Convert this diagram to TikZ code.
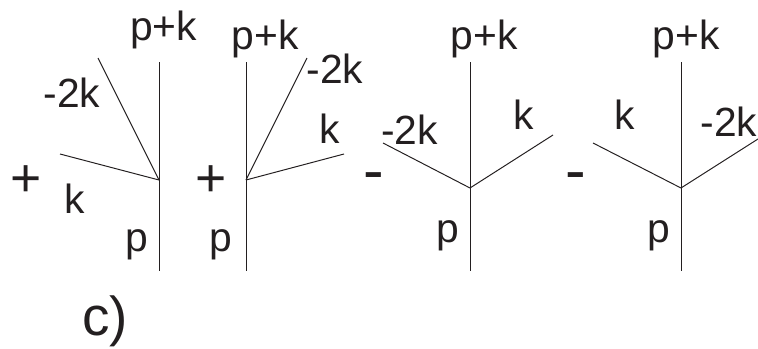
\documentclass[tikz,border=0pt]{standalone}
\usepackage{fontspec}
\setmainfont{Liberation Sans}
\definecolor{inkdark}{HTML}{231F20}

\begin{document}
\begin{tikzpicture}[
		x=0.025cm, y=-0.025cm,
		every node/.style={inner sep=0pt, anchor=base, text=inkdark},
		mom/.style={font=\fontsize{29}{30}\selectfont},
		sign/.style={font=\fontsize{38}{39}\selectfont, anchor=center},
		dash sign/.style={font=\fontsize{44}{45}\selectfont, anchor=center},
		tag/.style={font=\fontsize{39}{40}\selectfont},
		leg/.style={line width=0.7pt, draw=inkdark}
		]
		\useasboundingbox (0,0) rectangle (758,349);
		
		% First diagram
		\coordinate (vA) at (159,180);
		\coordinate (topA) at (159,62);
		\coordinate (botA) at (159,271);
		\coordinate (twoA) at (98,58);
		\coordinate (oneA) at (60,154);
		\draw[leg] (topA) -- (botA);
		\draw[leg] (vA) -- (twoA);
		\draw[leg] (vA) -- (oneA);
		\node[sign] (plusA) at (26,181) {+};
		\node[mom] (pkA) at (163.5,40) {p+k};
		\node[mom] (mkA) at (72,107) {-2k};
		\node[mom] (kA) at (75,213) {k};
		\node[mom] (pA) at (136.5,251) {p};
		
		% Second diagram
		\coordinate (vB) at (246,180);
		\coordinate (topB) at (246,62);
		\coordinate (botB) at (246,271);
		\coordinate (twoB) at (307,58);
		\coordinate (oneB) at (344,154);
		\draw[leg] (topB) -- (botB);
		\draw[leg] (vB) -- (twoB);
		\draw[leg] (vB) -- (oneB);
		\node[sign] (plusB) at (211,181) {+};
		\node[mom] (pkB) at (265,49) {p+k};
		\node[mom] (mkB) at (335,83) {-2k};
		\node[mom] (kB) at (330,143) {k};
		\node[mom] (pB) at (221,251) {p};
		
		% Third diagram
		\coordinate (vC) at (470,188);
		\coordinate (topC) at (470,62);
		\coordinate (botC) at (470,271);
		\coordinate (twoC) at (383,143);
		\coordinate (oneC) at (553,135);
		\draw[leg] (topC) -- (botC);
		\draw[leg] (vC) -- (twoC);
		\draw[leg] (vC) -- (oneC);
		\node[dash sign] (minusC) at (374,182) {-};
		\node[mom] (pkC) at (484,49) {p+k};
		\node[mom] (mkC) at (409.5,144) {-2k};
		\node[mom] (kC) at (523.5,129) {k};
		\node[mom] (pC) at (448,242) {p};
		
		% Fourth diagram
		\coordinate (vD) at (681,188);
		\coordinate (topD) at (681,62);
		\coordinate (botD) at (681,271);
		\coordinate (oneD) at (593,143);
		\coordinate (twoD) at (758,139);
		\draw[leg] (topD) -- (botD);
		\draw[leg] (vD) -- (oneD);
		\draw[leg] (vD) -- (twoD);
		\node[dash sign] (minusD) at (576,182) {-};
		\node[mom] (pkD) at (686,49) {p+k};
		\node[mom] (kD) at (625,129) {k};
		\node[mom] (mkD) at (729,136) {-2k};
		\node[mom] (pD) at (659,242) {p};
		
		\node[tag] (caption) at (105,335) {c)};
		
	\end{tikzpicture}
\end{document}
